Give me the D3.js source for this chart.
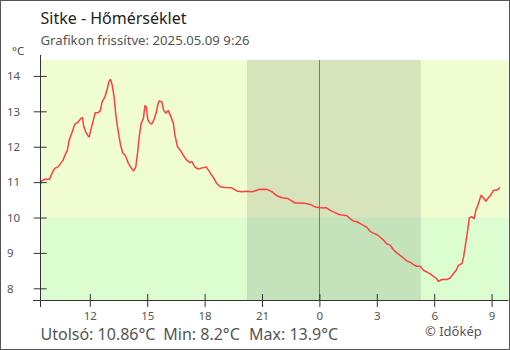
<!DOCTYPE html>
<html>
<head>
<meta charset="utf-8">
<script src="https://cdn.jsdelivr.net/npm/d3@7"></script>
<style>
  html, body { margin: 0; padding: 0; background: #fff; }
  svg { display: block; font-family: "Noto Sans", "Open Sans", sans-serif; }
</style>
</head>
<body>
<svg id="chart" width="510" height="350"></svg>
<script>
// Station readings (local time) and temperature in °C
const times = [
  "2025-05-08 09:26","2025-05-08 09:28","2025-05-08 09:39","2025-05-08 09:54","2025-05-08 09:59",
  "2025-05-08 10:05","2025-05-08 10:10","2025-05-08 10:20","2025-05-08 10:29","2025-05-08 10:36",
  "2025-05-08 10:41","2025-05-08 10:50","2025-05-08 10:54","2025-05-08 10:59","2025-05-08 11:05",
  "2025-05-08 11:13","2025-05-08 11:23","2025-05-08 11:32","2025-05-08 11:37","2025-05-08 11:41",
  "2025-05-08 11:47","2025-05-08 11:55","2025-05-08 11:58","2025-05-08 12:03","2025-05-08 12:10",
  "2025-05-08 12:17","2025-05-08 12:26","2025-05-08 12:33","2025-05-08 12:38","2025-05-08 12:47",
  "2025-05-08 12:54","2025-05-08 13:00","2025-05-08 13:05","2025-05-08 13:10","2025-05-08 13:16",
  "2025-05-08 13:21","2025-05-08 13:26","2025-05-08 13:32","2025-05-08 13:37","2025-05-08 13:44",
  "2025-05-08 13:51","2025-05-08 14:01","2025-05-08 14:13","2025-05-08 14:17","2025-05-08 14:24",
  "2025-05-08 14:29","2025-05-08 14:35","2025-05-08 14:41","2025-05-08 14:48","2025-05-08 14:53",
  "2025-05-08 14:57","2025-05-08 15:02","2025-05-08 15:09","2025-05-08 15:14","2025-05-08 15:21",
  "2025-05-08 15:28","2025-05-08 15:33","2025-05-08 15:37","2025-05-08 15:46","2025-05-08 15:51",
  "2025-05-08 15:58","2025-05-08 16:06","2025-05-08 16:12","2025-05-08 16:22","2025-05-08 16:27",
  "2025-05-08 16:35","2025-05-08 16:43","2025-05-08 16:53","2025-05-08 17:04","2025-05-08 17:14",
  "2025-05-08 17:20","2025-05-08 17:30","2025-05-08 17:40","2025-05-08 17:56","2025-05-08 18:05",
  "2025-05-08 18:12","2025-05-08 18:22","2025-05-08 18:31","2025-05-08 18:38","2025-05-08 18:49",
  "2025-05-08 19:04","2025-05-08 19:25","2025-05-08 19:41","2025-05-08 19:57","2025-05-08 20:12",
  "2025-05-08 20:28","2025-05-08 20:38","2025-05-08 20:49","2025-05-08 21:04","2025-05-08 21:17",
  "2025-05-08 21:31","2025-05-08 21:41","2025-05-08 21:51","2025-05-08 22:02","2025-05-08 22:20",
  "2025-05-08 22:33","2025-05-08 22:44","2025-05-08 22:59","2025-05-08 23:15","2025-05-08 23:31",
  "2025-05-08 23:46","2025-05-09 00:00","2025-05-09 00:13","2025-05-09 00:20","2025-05-09 00:28",
  "2025-05-09 00:39","2025-05-09 00:49","2025-05-09 01:00","2025-05-09 01:10","2025-05-09 01:26",
  "2025-05-09 01:36","2025-05-09 01:47","2025-05-09 01:57","2025-05-09 02:08","2025-05-09 02:18",
  "2025-05-09 02:29","2025-05-09 02:39","2025-05-09 02:49","2025-05-09 03:00","2025-05-09 03:10",
  "2025-05-09 03:21","2025-05-09 03:31","2025-05-09 03:42","2025-05-09 03:52","2025-05-09 04:03",
  "2025-05-09 04:13","2025-05-09 04:23","2025-05-09 04:34","2025-05-09 04:44","2025-05-09 04:55",
  "2025-05-09 05:05","2025-05-09 05:16","2025-05-09 05:26","2025-05-09 05:37","2025-05-09 05:47",
  "2025-05-09 05:58","2025-05-09 06:08","2025-05-09 06:13","2025-05-09 06:24","2025-05-09 06:40",
  "2025-05-09 06:50","2025-05-09 07:00","2025-05-09 07:09","2025-05-09 07:16","2025-05-09 07:27",
  "2025-05-09 07:32","2025-05-09 07:37","2025-05-09 07:42","2025-05-09 07:47","2025-05-09 07:50",
  "2025-05-09 07:58","2025-05-09 08:05","2025-05-09 08:11","2025-05-09 08:15","2025-05-09 08:22",
  "2025-05-09 08:27","2025-05-09 08:34","2025-05-09 08:42","2025-05-09 08:50","2025-05-09 08:57",
  "2025-05-09 09:06","2025-05-09 09:14","2025-05-09 09:21","2025-05-09 09:26"
];
const temps = [
  10.95,11.03,11.08,11.08,11.20, 11.31,11.39,11.43,11.53,11.62, 11.74,11.91,12.14,12.28,12.42,
  12.64,12.69,12.80,12.82,12.57, 12.42,12.30,12.28,12.47,12.71, 12.96,12.96,13.02,13.25,13.40,
  13.61,13.84,13.90,13.75,13.42, 12.95,12.61,12.28,12.02,11.81, 11.76,11.53,11.36,11.32,11.42,
  11.76,12.28,12.66,12.80,13.16, 13.13,12.76,12.66,12.64,12.76, 12.95,13.18,13.29,13.27,13.04,
  12.95,13.02,12.90,12.66,12.33, 12.00,11.91,11.76,11.62,11.55, 11.58,11.42,11.37,11.41,11.43,
  11.34,11.20,11.08,10.96,10.87, 10.85,10.84,10.75,10.73,10.74, 10.73,10.75,10.79,10.80,10.79,
  10.73,10.65,10.60,10.56,10.54, 10.47,10.41,10.41,10.40,10.37, 10.30,10.28,10.27,10.28,10.24,
  10.18,10.14,10.09,10.07,10.05, 9.97,9.90,9.88,9.83,9.78, 9.72,9.61,9.56,9.52,9.45,
  9.36,9.26,9.22,9.09,9.00, 8.93,8.86,8.77,8.74,8.67, 8.62,8.62,8.51,8.46,8.41,
  8.34,8.27,8.20,8.25,8.25, 8.29,8.41,8.51,8.65,8.70, 8.88,9.17,9.45,9.78,9.99,
  10.02,9.97,10.21,10.30,10.49, 10.63,10.56,10.46,10.56,10.63, 10.77,10.77,10.80,10.86
];

// Axis ticks
const yTicks = [8, 9, 10, 11, 12, 13, 14];
const xTickTimes = ["2025-05-08 12:00","2025-05-08 15:00","2025-05-08 18:00","2025-05-08 21:00",
                    "2025-05-09 00:00","2025-05-09 03:00","2025-05-09 06:00","2025-05-09 09:00"];
const xTickLabels = ["12", "15", "18", "21", "0", "3", "6", "9"];

// Time window shown, night period and midnight marker
const windowRange = ["2025-05-08 09:26", "2025-05-09 09:53"];
const nightRange = ["2025-05-08 20:13", "2025-05-09 05:18"];
const midnight = "2025-05-09 00:00";
const tempDomain = [7.67, 14.45];
const bandSplit = 10;

// Header and footer texts
const titleText = "Sitke - Hőmérséklet";
const subtitleText = "Grafikon frissítve: 2025.05.09 9:26";
const unitText = "°C";
const statTexts = ["Utolsó: 10.86°C", "Min: 8.2°C", "Max: 13.9°C"];
const creditText = "© Időkép";

const parse = d3.timeParse("%Y-%m-%d %H:%M");
const data = times.map((t, i) => ({ t: parse(t), v: temps[i] }));

const svg = d3.select("#chart");
const plotLeft = 40.7, plotRight = 508.5, plotTop = 60, plotBottom = 300;

const x = d3.scaleTime().domain(windowRange.map(parse)).range([plotLeft, plotRight]);
const y = d3.scaleLinear().domain(tempDomain).range([plotBottom, plotTop]);

// Outer frame
svg.append("rect").attr("x", 0.5).attr("y", 0.5).attr("width", 509).attr("height", 349)
  .attr("fill", "#fff").attr("stroke", "#555");

// Background bands: above and below 10 °C
svg.append("rect").attr("x", plotLeft).attr("y", plotTop)
  .attr("width", plotRight - plotLeft).attr("height", y(bandSplit) - plotTop).attr("fill", "#f0fdd0");
svg.append("rect").attr("x", plotLeft).attr("y", y(bandSplit))
  .attr("width", plotRight - plotLeft).attr("height", plotBottom - y(bandSplit)).attr("fill", "#dcfdd0");

// Night shading
const n0 = x(parse(nightRange[0])), n1 = x(parse(nightRange[1]));
svg.append("rect").attr("x", n0).attr("y", plotTop)
  .attr("width", n1 - n0).attr("height", plotBottom - plotTop)
  .attr("fill", "#000").attr("fill-opacity", 0.1);

// Midnight marker
const mx = Math.round(x(parse(midnight))) + 0.5;
svg.append("line").attr("x1", mx).attr("x2", mx).attr("y1", plotTop).attr("y2", plotBottom)
  .attr("stroke", "#3a87c9").attr("stroke-width", 1);

// Temperature line
const line = d3.line().x(d => x(d.t)).y(d => y(d.v));
svg.append("path").datum(data).attr("d", line)
  .attr("fill", "none").attr("stroke", "#ff4040").attr("stroke-width", 1.5)
  .attr("stroke-linejoin", "round");

// Y axis
const axisColor = "#333";
const yAxis = d3.axisLeft(y).tickValues(yTicks).tickSize(7).tickFormat(d3.format("d"));
const gy = svg.append("g").attr("transform", `translate(${plotLeft},0)`).call(yAxis);
gy.select(".domain").remove();
gy.selectAll(".tick line").attr("x1", 6).attr("stroke", axisColor);
gy.selectAll(".tick text").attr("x", 7 - plotLeft).attr("text-anchor", "start")
  .attr("font-size", 11.5).attr("fill", "#555").attr("font-family", "Noto Sans");
svg.append("line").attr("x1", Math.round(plotLeft) - 0.5).attr("x2", Math.round(plotLeft) - 0.5)
  .attr("y1", 55).attr("y2", 307).attr("stroke", axisColor);

// X axis
const xAxis = d3.axisBottom(x).tickValues(xTickTimes.map(parse)).tickSize(7)
  .tickFormat((d, i) => xTickLabels[i]);
const gx = svg.append("g").attr("transform", `translate(0,${plotBottom})`).call(xAxis);
gx.select(".domain").remove();
gx.selectAll(".tick line").attr("y1", -6).attr("stroke", axisColor);
gx.selectAll(".tick text").attr("y", 19.5).attr("dy", 0)
  .attr("font-size", 11.5).attr("fill", "#555").attr("font-family", "Noto Sans");
svg.append("line").attr("x1", 33).attr("x2", plotRight).attr("y1", plotBottom + 0.5).attr("y2", plotBottom + 0.5)
  .attr("stroke", axisColor);

// Header
svg.append("text").attr("x", 40.5).attr("y", 24).attr("font-size", 16)
  .attr("fill", "#222").text(titleText);
svg.append("text").attr("x", 40.5).attr("y", 45).attr("font-size", 13.2)
  .attr("fill", "#555").text(subtitleText);
svg.append("text").attr("x", 12).attr("y", 55).attr("font-size", 11.5)
  .attr("fill", "#444").text(unitText);

// Footer statistics and credit
const statX = [40.5, 163.3, 249];
svg.selectAll(".stat").data(statTexts).join("text").attr("class", "stat")
  .attr("x", (d, i) => statX[i]).attr("y", 339.5).attr("font-size", 16)
  .attr("fill", "#555").text(d => d);
svg.append("text").attr("x", 425).attr("y", 336).attr("font-size", 13)
  .attr("fill", "#555").text(creditText);
</script>
</body>
</html>
